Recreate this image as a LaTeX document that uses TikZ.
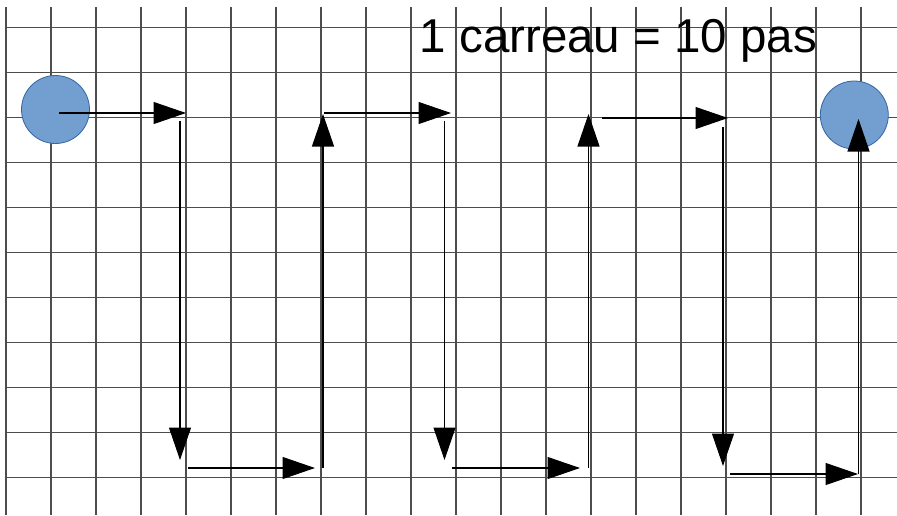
\documentclass[tikz,border=0pt]{standalone}
\usepackage{fontspec}
\setmainfont{Liberation Sans}
\usetikzlibrary{arrows.meta}
\definecolor{gridcol}{HTML}{4D4D4D}
\definecolor{dotfill}{HTML}{729FCF}
\definecolor{dotdraw}{HTML}{3465A4}
\tikzset{
  gridline/.style={draw=gridcol, line width=1.1pt},
  dot/.style={circle, fill=dotfill, draw=dotdraw, line width=0.8pt, minimum size=68pt, inner sep=0pt},
  move/.style={draw=black, line width=1.1pt, -{Triangle[length=32.5pt,width=22pt]}},
  label/.style={font=\fontsize{47.5}{50}\selectfont, inner sep=0pt, anchor=base west}
}
\begin{document}
\begin{tikzpicture}[x=1pt,y=-1pt]
\useasboundingbox (0,0) rectangle (897,515);
\fill[white] (0,0) rectangle (897,515);
% grid
\foreach \i in {0,...,19} {
  \draw[gridline] ({6+45*\i},7) -- ({6+45*\i},515);
}
\foreach \j in {0,...,10} {
  \draw[gridline] (6,{27.5+45*\j}) -- (897,{27.5+45*\j});
}
% text
\node[label] (title) at (419.5,52.7) {1 carreau = 10 pas};
% start and end
\node[dot] (start) at (55.5,109.5) {};
\node[dot] (goal) at (854.3,115) {};
% path coordinates
\coordinate (a1s) at (59,113);   \coordinate (a1e) at (186,113);
\coordinate (a2s) at (180,121);  \coordinate (a2e) at (180,460);
\coordinate (a3s) at (188,468);  \coordinate (a3e) at (315,468);
\coordinate (a4s) at (323,468);  \coordinate (a4e) at (323,114);
\coordinate (a5s) at (324,113);  \coordinate (a5e) at (451,113);
\coordinate (a6s) at (444.5,121);\coordinate (a6e) at (444.5,460);
\coordinate (a7s) at (452,468);  \coordinate (a7e) at (580,468);
\coordinate (a8s) at (588.5,468);\coordinate (a8e) at (588.5,114);
\coordinate (a9s) at (602,118);  \coordinate (a9e) at (728,118);
\coordinate (a10s) at (723,127); \coordinate (a10e) at (723,466);
\coordinate (a11s) at (730,474); \coordinate (a11e) at (858,474);
\coordinate (a12s) at (858.5,474);\coordinate (a12e) at (858.5,119);
\foreach \k in {1,...,12} {
  \draw[move] (a\k s) -- (a\k e);
}
\end{tikzpicture}
\end{document}
